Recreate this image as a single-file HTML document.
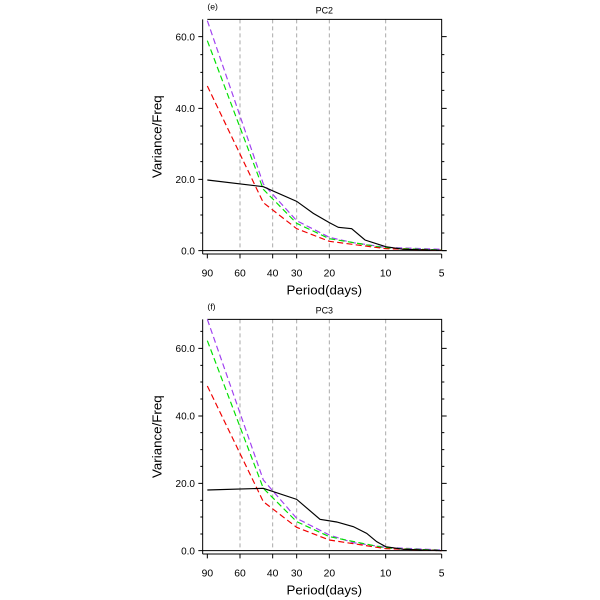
<!DOCTYPE html>
<html><head><style>body{margin:0;background:#fff}svg{display:block}</style></head><body>
<svg width="600" height="600" viewBox="0 0 600 600" font-family="Liberation Sans, sans-serif">
<!-- Top panel -->
<g transform="translate(140,0) scale(0.33333)">
 <g stroke="#aaa" stroke-dasharray="12,9" stroke-width="3">
  <line x1="300" y1="58" x2="300" y2="752"/><line x1="398" y1="58" x2="398" y2="752"/><line x1="470" y1="58" x2="470" y2="752"/><line x1="568" y1="58" x2="568" y2="752"/><line x1="737" y1="58" x2="737" y2="752"/>
 </g>
 <g stroke="#000" stroke-width="3" fill="none">
  <polyline points="202,58 905,58 905,752"/>
  <line x1="188" y1="58" x2="188" y2="762"/><line x1="188" y1="762" x2="905" y2="762"/>
  <line x1="188" y1="752" x2="920" y2="752"/>
  <path d="M188 110h-13M188 325h-13M188 538h-13M188 752h-13M905 110h15M905 325h15M905 538h15M905 752h15"/>
  <path d="M188 164h-7M188 217h-7M188 271h-7M188 378h-7M188 432h-7M188 485h-7M188 592h-7M188 645h-7M188 699h-7M905 164h8M905 217h8M905 271h8M905 378h8M905 432h8M905 485h8M905 592h8M905 645h8M905 699h8"/>
  <path d="M202 762v13M300 762v13M398 762v13M470 762v13M568 762v13M737 762v13M905 762v13"/>
 </g>
 <g fill="none" stroke-width="3.5" stroke-dasharray="18,10">
  <polyline stroke="#a040f0" points="202,62 370,552 470,662 568,712 640,728 737,742 905,748"/>
  <polyline stroke="#00e000" points="202,122 370,568 470,670 568,716 737,744 905,750"/>
  <polyline stroke="#f00000" points="202,258 370,608 470,686 568,724 737,746 905,751"/>
 </g>
 <polyline fill="none" stroke="#000" stroke-width="3.5" points="202,540 370,560 470,604 520,640 568,668 595,682 635,686 675,720 737,740 790,748 905,751"/>
 <g font-size="30" text-anchor="end" fill="#000"><text x="165" y="121">60.0</text><text x="165" y="336">40.0</text><text x="165" y="549">20.0</text><text x="165" y="763">0.0</text></g>
 <g font-size="31" text-anchor="middle"><text x="202" y="829">90</text><text x="300" y="829">60</text><text x="398" y="829">40</text><text x="470" y="829">30</text><text x="568" y="829">20</text><text x="737" y="829">10</text><text x="905" y="829">5</text></g>
 <text x="553" y="884" font-size="40" text-anchor="middle">Period(days)</text>
 <text transform="translate(64,410) rotate(-90)" font-size="40" text-anchor="middle">Variance/Freq</text>
 <text x="202" y="28" font-size="26">(e)</text>
 <text x="553" y="40" font-size="27" text-anchor="middle">PC2</text>
</g>
<!-- Bottom panel -->
<g transform="translate(140,300) scale(0.33333)">
 <g stroke="#aaa" stroke-dasharray="12,9" stroke-width="3">
  <line x1="300" y1="58" x2="300" y2="752"/><line x1="398" y1="58" x2="398" y2="752"/><line x1="470" y1="58" x2="470" y2="752"/><line x1="568" y1="58" x2="568" y2="752"/><line x1="737" y1="58" x2="737" y2="752"/>
 </g>
 <g stroke="#000" stroke-width="3" fill="none">
  <polyline points="202,58 905,58 905,752"/>
  <line x1="188" y1="58" x2="188" y2="762"/><line x1="188" y1="762" x2="905" y2="762"/>
  <line x1="188" y1="752" x2="920" y2="752"/>
  <path d="M188 145h-13M188 348h-13M188 550h-13M188 752h-13M905 145h15M905 348h15M905 550h15M905 752h15"/>
  <path d="M188 94h-7M188 196h-7M188 246h-7M188 297h-7M188 398h-7M188 449h-7M188 499h-7M188 601h-7M188 651h-7M188 702h-7M905 94h8M905 196h8M905 246h8M905 297h8M905 398h8M905 449h8M905 499h8M905 601h8M905 651h8M905 702h8"/>
  <path d="M202 762v13M300 762v13M398 762v13M470 762v13M568 762v13M737 762v13M905 762v13"/>
 </g>
 <g fill="none" stroke-width="3.5" stroke-dasharray="18,10">
  <polyline stroke="#a040f0" points="202,58 370,540 470,655 568,705 640,728 737,742 905,750"/>
  <polyline stroke="#00e000" points="202,122 370,565 470,665 568,710 737,744 905,751"/>
  <polyline stroke="#f00000" points="202,258 370,605 470,682 568,720 737,746 905,752"/>
 </g>
 <polyline fill="none" stroke="#000" stroke-width="3.5" points="202,570 370,565 470,598 540,658 590,666 640,680 680,700 710,725 737,740 790,748 905,752"/>
 <g font-size="30" text-anchor="end"><text x="165" y="156">60.0</text><text x="165" y="359">40.0</text><text x="165" y="561">20.0</text><text x="165" y="763">0.0</text></g>
 <g font-size="31" text-anchor="middle"><text x="202" y="829">90</text><text x="300" y="829">60</text><text x="398" y="829">40</text><text x="470" y="829">30</text><text x="568" y="829">20</text><text x="737" y="829">10</text><text x="905" y="829">5</text></g>
 <text x="553" y="884" font-size="40" text-anchor="middle">Period(days)</text>
 <text transform="translate(64,410) rotate(-90)" font-size="40" text-anchor="middle">Variance/Freq</text>
 <text x="202" y="28" font-size="26">(f)</text>
 <text x="553" y="40" font-size="27" text-anchor="middle">PC3</text>
</g>
</svg>
</body></html>
